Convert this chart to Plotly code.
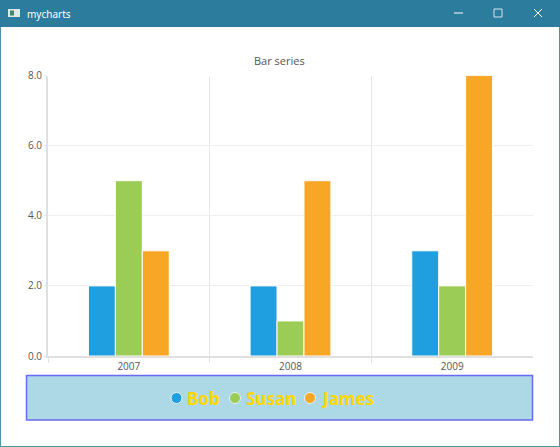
import plotly.graph_objects as go

W, H = 560, 447
categories = ["2007", "2008", "2009"]
series_names = ["Bob", "Susan", "James"]
bob = [2, 2, 3]
susan = [5, 1, 2]
james = [3, 5, 8]
colors = ["#1f9fe0", "#9bcc55", "#f7a626"]
tick_values = [0, 2, 4, 6, 8]
tick_labels = ["0.0", "2.0", "4.0", "6.0", "8.0"]
legend_dot_x = [176.5, 235, 310]
legend_text_x = [185, 244, 319]

def px(x): return x / W
def py(y): return 1 - y / H

fig = go.Figure()
for name, vals, c in zip(series_names, [bob, susan, james], colors):
    fig.add_trace(go.Bar(x=categories, y=vals, name=name, showlegend=False,
                         marker=dict(color=c, line=dict(color="#ffffff", width=1))))

def rect(x0, y0, x1, y1, fill="rgba(0,0,0,0)", line=None, lw=0):
    return dict(type="rect", xref="paper", yref="paper", x0=px(x0), x1=px(x1), y0=py(y0), y1=py(y1),
                fillcolor=fill, line=dict(color=line or "rgba(0,0,0,0)", width=lw), layer="below")
def seg(x0, y0, x1, y1, color="#ffffff", lw=1):
    return dict(type="line", xref="paper", yref="paper", x0=px(x0), x1=px(x1), y0=py(y0), y1=py(y1),
                line=dict(color=color, width=lw), layer="above")

shapes = [
    rect(0, 0, 560, 27, fill="#2c7c9e"),
    rect(0, 27, 1, 447, fill="#4f94aa"),
    rect(559, 27, 560, 447, fill="#4f94aa"),
    rect(0, 446, 560, 447, fill="#4f94aa"),
    rect(26.5, 375.5, 532.5, 420, fill="#add8e6", line="#6a6af5", lw=1.5),
    rect(8, 9, 20, 17, fill="#dfe8ea"),
    rect(10, 10.5, 14, 15.5, fill="#3f8a6a"),
    seg(454, 13, 463, 13),
    rect(494, 9, 502, 17, line="#d5e5ec", lw=1),
    seg(534, 9, 542, 17),
    seg(534, 17, 542, 9),
]
annotations = [
    dict(text="Bar series", xref="paper", yref="paper", x=px(279), y=py(60), yanchor="middle", xanchor="center",
         showarrow=False, font=dict(size=11, color="#555555")),
    dict(text="mycharts", xref="paper", yref="paper", x=px(25), y=py(13.5), xanchor="left", yanchor="middle",
         showarrow=False, font=dict(size=10, color="#ffffff", family="Noto Sans, sans-serif")),
]
for name, c, dx, tx in zip(series_names, colors, legend_dot_x, legend_text_x):
    s = rect(dx - 5.5, 392.5, dx + 5.5, 403.5, fill=c, line="#e4f2f6", lw=1)
    s["type"] = "circle"
    s["layer"] = "above"
    shapes.append(s)
    annotations.append(dict(text=name, xref="paper", yref="paper", x=px(tx), y=py(398), xanchor="left",
                            yanchor="middle", showarrow=False,
                            font=dict(size=17, color="#ffd700", family="Noto Sans, sans-serif", weight="bold")))

fig.update_layout(
    width=W, height=H, margin=dict(l=0, r=0, t=0, b=0, autoexpand=False),
    paper_bgcolor="#ffffff", plot_bgcolor="#ffffff",
    barmode="group", bargap=0.5, bargroupgap=0.0, showlegend=False,
    shapes=shapes, annotations=annotations,
    font=dict(family="Open Sans, Noto Sans, sans-serif", size=10, color="#555555"),
    xaxis=dict(domain=[px(48), px(533)], type="category", categoryorder="array", automargin=False,
               categoryarray=categories, tickson="boundaries", ticks="outside", ticklen=5,
               tickcolor="#e3e3e3", tickwidth=1, showgrid=True, gridcolor="#e6e6e6", gridwidth=1,
               showline=True, linecolor="#e0e0e0", linewidth=2, mirror=False, zeroline=False,
               tickfont=dict(size=10, color="#555555")),
    yaxis=dict(domain=[py(356), py(75.5)], range=[0, 8], tickmode="array", tickvals=tick_values, automargin=False,
               ticktext=tick_labels, ticks="outside", ticklen=2, tickcolor="#e3e3e3",
               showgrid=True, gridcolor="#eeeeee", gridwidth=1, showline=True,
               linecolor="#e0e0e0", linewidth=2, zeroline=False,
               tickfont=dict(size=10, color="#555555")),
)
fig.write_html("out.html", config=dict(displayModeBar=False),
               post_script="document.body.style.margin='0';document.body.style.padding='0';")
